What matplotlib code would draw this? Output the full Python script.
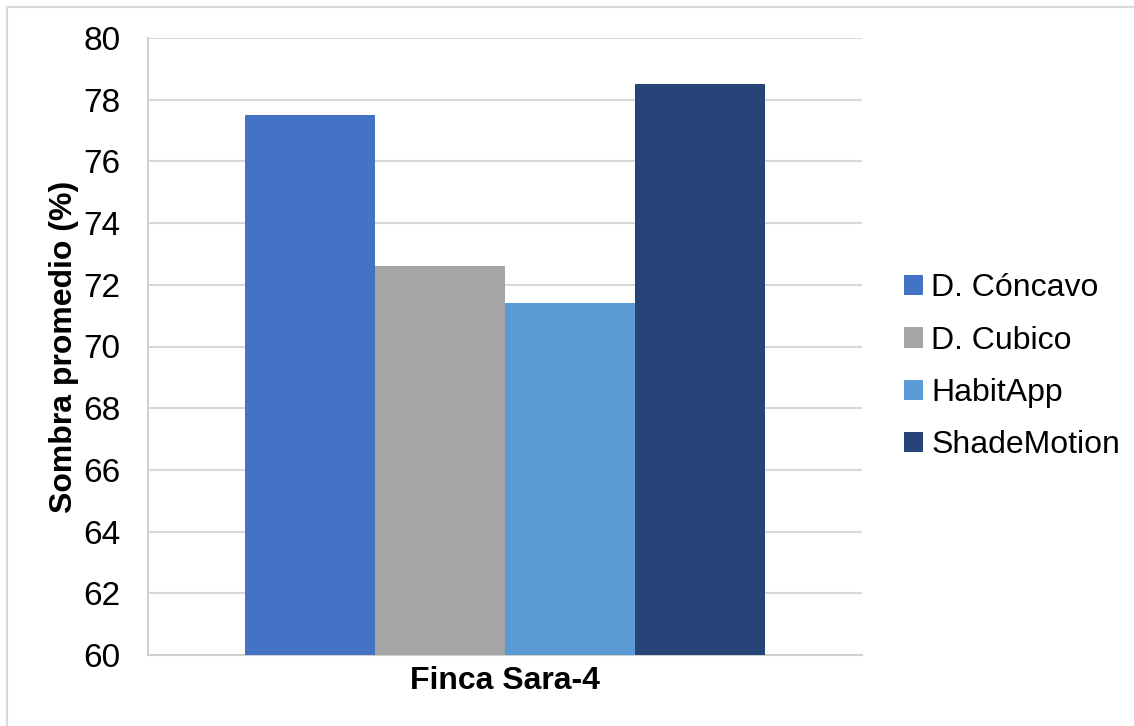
import numpy as np
import matplotlib.pyplot as plt
from matplotlib.patches import Rectangle

# data
category = ['Finca Sara-4']
series = ['D. Cóncavo', 'D. Cubico', 'HabitApp', 'ShadeMotion']
values = [77.5, 72.6, 71.4, 78.5]
colors = ['#4472C4', '#A5A5A5', '#5B9BD5', '#264478']

plt.rcParams['font.family'] = ['Liberation Sans', 'DejaVu Sans']

fig = plt.figure(figsize=(11.34, 7.26), dpi=100)
ax = fig.add_axes([148/1134, 71/726, 714/1134, 617/726])

w = 130/714
x = np.arange(len(category))
for i, (name, v, c) in enumerate(zip(series, values, colors)):
    ax.bar(x + (i - 1.5)*w, v, width=w, color=c, label=name, zorder=3)

ax.set_xlim(-0.5, 0.5)
ax.set_ylim(60, 80)
ax.set_yticks(np.arange(60, 81, 2))
ax.set_xticks(x)
ax.set_xticklabels(category, fontsize=23, fontweight='bold')
ax.tick_params(axis='y', length=0, labelsize=24, pad=20)
ax.tick_params(axis='x', length=0, pad=8)
ax.set_ylabel('Sombra promedio (%)', fontsize=23, fontweight='bold', labelpad=3)

ax.grid(axis='y', color='#D9D9D9', linewidth=1.5, zorder=0)
for s in ['top', 'right']:
    ax.spines[s].set_visible(False)
for s in ['left', 'bottom']:
    ax.spines[s].set_color('#D0D0D0')
    ax.spines[s].set_linewidth(1.5)

leg = ax.legend(loc='center left', bbox_to_anchor=(1.041, 0.467), frameon=False,
                fontsize=23, handlelength=0.6, handleheight=0.6,
                handletextpad=0.25, labelspacing=0.7, borderaxespad=0)

# outer chart border
fig.patches.append(Rectangle((7/1134, -0.01), 1.02, 1 - 7/726 + 0.01,
                             transform=fig.transFigure, fill=False,
                             edgecolor='#D9D9D9', linewidth=1.5))

fig.savefig('out.png', dpi=100)
